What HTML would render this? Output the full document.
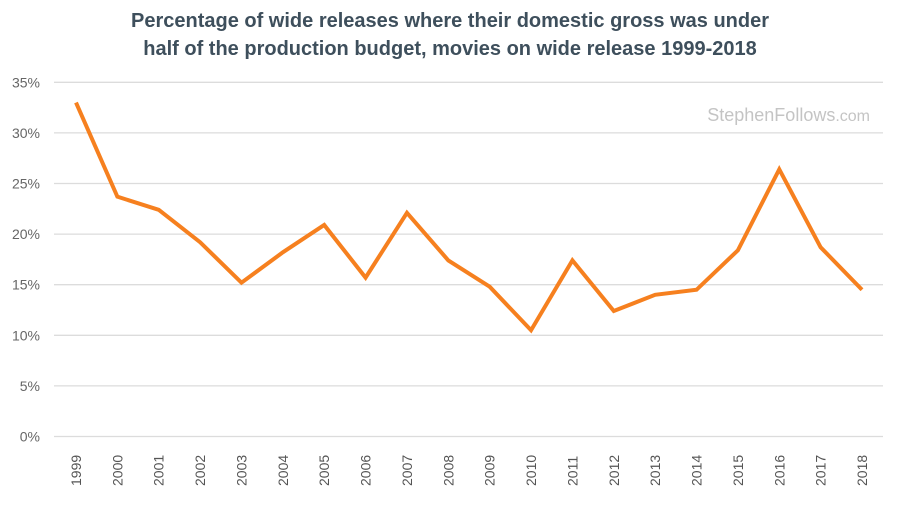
<!DOCTYPE html>
<html><head><meta charset="utf-8"><style>
body{margin:0;background:#fff;}
svg{display:block;font-family:"Liberation Sans",sans-serif;}
</style></head><body>
<svg id="chart" width="900" height="506">
<text x="450" y="27" text-anchor="middle" font-size="20" font-weight="bold" fill="#3e4f5c">Percentage of wide releases where their domestic gross was under</text>
<text x="450" y="55" text-anchor="middle" font-size="20" font-weight="bold" fill="#3e4f5c">half of the production budget, movies on wide release 1999-2018</text>
<text x="870" y="121" text-anchor="end" font-size="18" fill="#c4c4c4">StephenFollows<tspan font-size="16">.com</tspan></text>
<g id="grid"></g><g id="yl"></g><g id="xl"></g><g id="series"></g>
</svg>
<script>
const years=["1999","2000","2001","2002","2003","2004","2005","2006","2007","2008","2009","2010","2011","2012","2013","2014","2015","2016","2017","2018"];
const values=[33.0,23.7,22.4,19.2,15.2,18.2,20.9,15.7,22.1,17.4,14.8,10.5,17.4,12.4,14.0,14.5,18.4,26.4,18.7,14.5];
const yTicks=[0,5,10,15,20,25,30,35];
const NS="http://www.w3.org/2000/svg";
const x0=76,x1=862,y0=436.5,yTop=82.3,xmin=54,xmax=883;
const xs=i=>x0+i*(x1-x0)/(years.length-1);
const ys=v=>y0-(v/35)*(y0-yTop);
function mk(t,a,p){const e=document.createElementNS(NS,t);for(const k in a)e.setAttribute(k,a[k]);p.appendChild(e);return e;}
const grid=document.getElementById('grid'),yl=document.getElementById('yl'),xl=document.getElementById('xl'),se=document.getElementById('series');
yTicks.forEach(v=>{
 const l=mk('line',{x1:xmin,x2:xmax,y1:ys(v),y2:ys(v),stroke:'#dcdcdc','stroke-width':1.3},grid);
 
 
 const t=mk('text',{x:40,y:ys(v)+5,'text-anchor':'end','font-size':14,fill:'#666'},yl);
 t.textContent=v+'%';
 
 
});
years.forEach((y,i)=>{
 const t=mk('text',{x:0,y:0,transform:`translate(${xs(i)+5},${486}) rotate(-90)`,'font-size':14,fill:'#555'},xl);
 t.textContent=y;
 
 
});
const p=mk('polyline',{points:values.map((v,i)=>xs(i)+','+ys(v)).join(' '),fill:'none',stroke:'#f6801f','stroke-width':4,'stroke-linejoin':'miter'},se);


</script>
</body></html>
